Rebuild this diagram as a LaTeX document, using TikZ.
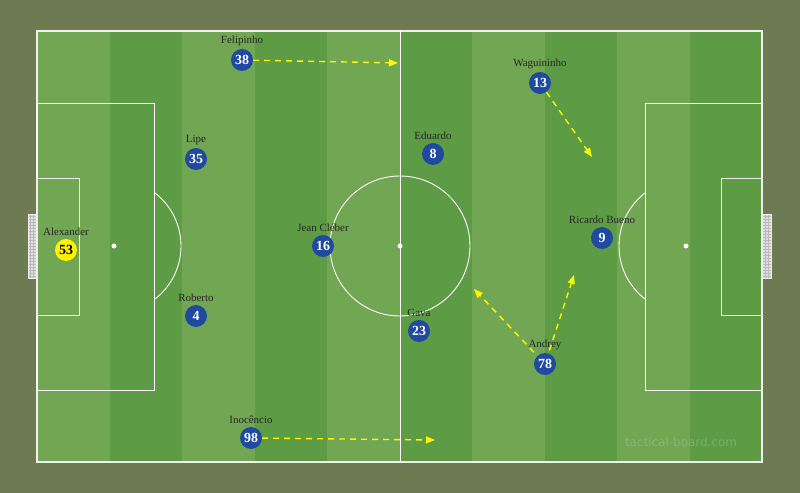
\documentclass[tikz,border=0pt]{standalone}
\usepackage{fontspec}
\setmainfont{Liberation Serif}
\newfontfamily\markfont{DejaVu Sans}
\usetikzlibrary{arrows.meta,positioning}
\definecolor{board}{RGB}{110,122,82}
\definecolor{grassL}{RGB}{113,166,83}
\definecolor{grassD}{RGB}{93,156,68}
\definecolor{shirt}{RGB}{31,74,160}
\definecolor{keeper}{RGB}{255,242,0}
\definecolor{runline}{RGB}{255,247,0}
\begin{document}
\begin{tikzpicture}[x=1bp,y=-1bp]
  \tikzstyle{pitchline}=[draw=white,line width=0.9bp]
  \tikzstyle{player}=[circle,fill=shirt,text=white,minimum size=22bp,inner sep=0pt,font=\fontsize{14}{14}\selectfont\bfseries]
  \tikzstyle{goalie}=[player,fill=keeper,text=black]
  \tikzstyle{plabel}=[font=\fontsize{11}{11}\selectfont,text=black!85,inner sep=0pt]
  \tikzstyle{run}=[draw=runline,line width=1.4bp,dash pattern=on 6bp off 5bp,-{Triangle[length=9bp,width=7bp]}]
  \useasboundingbox (0,0) rectangle (800,493);
  \fill[board] (0,0) rectangle (800,493);
  % grass stripes
  \foreach \i in {0,...,9} {
    \pgfmathsetmacro{\xa}{37+72.5*\i}
    \pgfmathtruncatemacro{\odd}{mod(\i,2)}
    \ifnum\odd=0 \fill[grassL] (\xa,31) rectangle ++(72.5,431);
    \else \fill[grassD] (\xa,31) rectangle ++(72.5,431); \fi
  }
  % goals
  \foreach \gx in {28,762} {
    \fill[gray!25] (\gx,214) rectangle ++(9,64);
    \draw[gray!55,line width=0.3bp] (\gx,214) grid[step=3bp] ++(9,64);
    \draw[white!85!gray,line width=0.8bp] (\gx,214) rectangle ++(9,64);
  }
  % markings
  \draw[pitchline,draw=white!88!gray,line width=1.4bp] (37,31) rectangle (762,462);
  \draw[pitchline] (400,31) -- (400,462);
  \draw[pitchline] (400,246) circle (70);
  \draw[pitchline] (37,103) rectangle (154,390);
  \draw[pitchline,draw=white!85!gray] (37,178) rectangle (79,315);
  \draw[pitchline] (645,103) rectangle (762,390);
  \draw[pitchline,draw=white!85!gray] (721,178) rectangle (762,315);
  \begin{scope}
    \clip (154,31) rectangle (400,462);
    \draw[pitchline] (114,246) circle (67);
  \end{scope}
  \begin{scope}
    \clip (400,31) rectangle (645,462);
    \draw[pitchline] (686,246) circle (67);
  \end{scope}
  \fill[white] (114,246) circle (2.5) (400,246) circle (2.5) (686,246) circle (2.5);
  \node[font=\markfont\fontsize{12}{12}\selectfont,text=white,opacity=0.18] (mark) at (681,442) {tactical-board.com};
  % players
  \node[goalie] (p53) at (66,250) {53};
  \node[player] (p38) at (242,60) {38};
  \node[player] (p35) at (196,159) {35};
  \node[player] (p16) at (323,246) {16};
  \node[player] (p4) at (196,316) {4};
  \node[player] (p98) at (251,438) {98};
  \node[player] (p8) at (433,154) {8};
  \node[player] (p13) at (540,83) {13};
  \node[player] (p9) at (602,238) {9};
  \node[player] (p23) at (419,331) {23};
  \node[player] (p78) at (545,364) {78};
  \node[plabel,above=3bp of p53] (t53) {Alexander};
  \node[plabel,above=3bp of p38] (t38) {Felipinho};
  \node[plabel,above=3bp of p35] (t35) {Lipe};
  \node[plabel,above=3bp of p16] (t16) {Jean Cléber};
  \node[plabel,above=3bp of p4] (t4) {Roberto};
  \node[plabel,above=3bp of p98] (t98) {Inocêncio};
  \node[plabel,above=3bp of p8] (t8) {Eduardo};
  \node[plabel,above=3bp of p13] (t13) {Waguininho};
  \node[plabel,above=3bp of p9] (t9) {Ricardo Bueno};
  \node[plabel,above=3bp of p23] (t23) {Gava};
  \node[plabel,above=3bp of p78] (t78) {Andrey};
  % runs
  \coordinate (r38) at (398,63);
  \coordinate (r13) at (592,157);
  \coordinate (r98) at (435,440);
  \coordinate (r78a) at (474,289);
  \coordinate (r78b) at (574,275);
  \draw[run] (p38) -- (r38);
  \draw[run] (p13) -- (r13);
  \draw[run] (p98) -- (r98);
  \draw[run,shorten <=5bp] (p78) -- (r78a);
  \draw[run,shorten <=3bp] (p78) -- (r78b);
\end{tikzpicture}
\end{document}
